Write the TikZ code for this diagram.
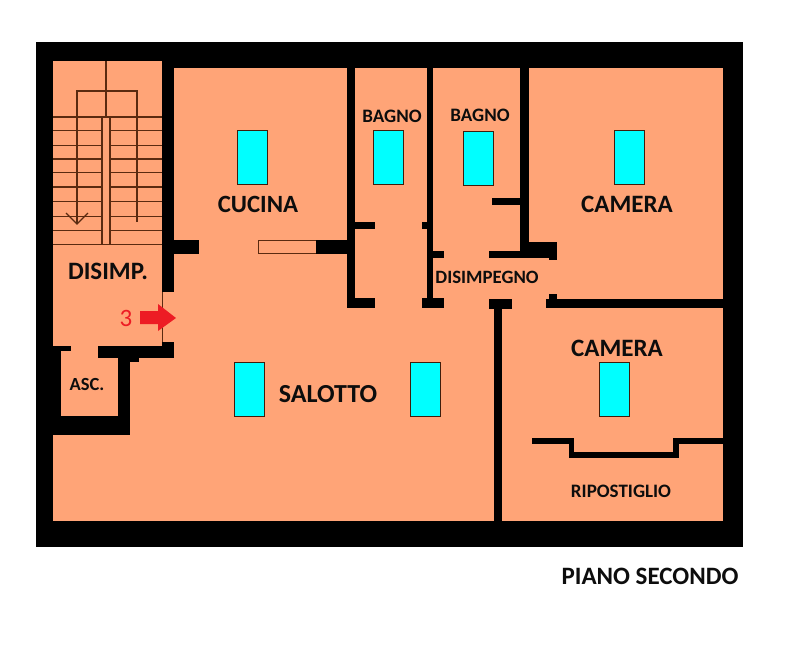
\documentclass[tikz,border=0pt]{standalone}
\usepackage{fontspec}
\setmainfont{Carlito}
\definecolor{room}{HTML}{FFA477}
\definecolor{stairline}{HTML}{5A2A10}
\definecolor{bed}{HTML}{00FFFF}
\definecolor{redmark}{HTML}{ED1C24}
\tikzset{
  wall/.style={fill=black,draw=none},
  stairs/.style={draw=stairline,line width=1.1pt},
  bedbox/.style={fill=bed,draw=stairline!70!black,line width=0.4pt},
  lbl/.style={text=black!95,inner sep=0pt,anchor=center},
}
\newcommand{\wl}[4]{\fill[wall] (#1,#2) rectangle (#3,#4);}
\newcommand{\lblfont}[1]{\bfseries\fontsize{#1}{#1}\selectfont}
\begin{document}
\begin{tikzpicture}[x=1pt,y=-1pt]
\useasboundingbox (0,0) rectangle (800,645);
\fill[white] (0,0) rectangle (800,645);
\fill[black] (36,42) rectangle (743,547);
\fill[room] (53,61) rectangle (723,521);
% top and stair wall
\wl{174}{61}{723}{68}
\wl{162}{61}{174}{292}
\wl{174}{240}{199}{254}
% lift block
\wl{162}{342}{174}{358}
\wl{98}{346}{174}{358}
\wl{53}{346}{71}{351}
\wl{53}{346}{60.5}{435}
\wl{118}{351}{130}{435}
\wl{130}{358}{139}{362}
\wl{53}{416}{130}{435}
\draw[stairline,line width=0.7pt] (162.8,292) -- (162.8,342);
% cucina partition
\draw[stairline,line width=0.8pt] (258.5,240.5) rectangle (316,253.5);
\wl{316}{240}{348}{254}
% bath walls
\wl{347}{68}{355}{308}
\wl{347}{298}{375}{308}
\wl{355}{222}{375}{229}
\wl{427}{68}{433}{308}
\wl{422}{222}{427}{229}
\wl{433}{251}{444}{258}
\wl{422}{298}{444}{308}
\wl{520}{68}{529}{258}
\wl{492}{198}{520}{205}
\wl{489}{251}{557}{258}
\wl{529}{242}{557}{258}
\wl{549}{258}{557}{260}
% salotto / camera walls
\wl{489}{299}{512}{309}
\wl{494}{309}{502}{521}
\wl{546}{299}{723}{308}
\wl{549}{294}{557}{299}
% ripostiglio
\wl{532}{438}{574}{444}
\wl{569}{444}{574}{458}
\wl{569}{452}{679}{458}
\wl{673}{438}{679}{452}
\wl{679}{438}{723}{444}
% stairs
\foreach \yy in {117,130.7,145.3,159,172.7,187,201.7,216.3,230.7,244.3}
  \draw[stairs] (53,\yy) -- (162,\yy);
\fill[room] (102,117.5) rectangle (110,244);
\draw[stairs] (102,117) -- (102,244.3) (110,117) -- (110,244.3);
\draw[stairs] (106,61) -- (106,117);
\draw[stairs] (77,224) -- (77,91) -- (137,91) -- (137,222);
\draw[stairs] (66,213) -- (77,224) -- (88,213);
% beds
\foreach \xx/\yy in {237/130,373/130,463/131,614/130,234/362,410/362,599/362}
  \draw[bedbox] (\xx,\yy) rectangle ++(30,54);
% arrow
\fill[redmark] (140,311) -- (158,311) -- (158,304) -- (176,318) -- (158,331) -- (158,324) -- (140,324) -- cycle;
% labels
\node[inner sep=0pt,text=redmark,font=\fontsize{25}{25}\selectfont] (three) at (126,318) {3};
\node[lbl,font=\lblfont{24.8}] (cucina) at (258,204) {CUCINA};
\node[lbl,font=\lblfont{19}] (bagnoa) at (392,116) {BAGNO};
\node[lbl,font=\lblfont{19}] (bagnob) at (480,115) {BAGNO};
\node[lbl,font=\lblfont{25}] (cameraa) at (627,204) {CAMERA};
\node[lbl,font=\lblfont{25}] (camerab) at (617,348) {CAMERA};
\node[lbl,font=\lblfont{25}] (disimp) at (108,271) {DISIMP.};
\node[lbl,font=\lblfont{18.5}] (asc) at (87,384) {ASC.};
\node[lbl,font=\lblfont{26}] (salotto) at (328,394) {SALOTTO};
\node[lbl,font=\lblfont{18.8}] (disimpegno) at (487,277) {DISIMPEGNO};
\node[lbl,font=\lblfont{19}] (ripostiglio) at (621,491) {RIPOSTIGLIO};
\node[lbl,font=\lblfont{25}] (piano) at (650,576) {PIANO SECONDO};
\end{tikzpicture}
\end{document}
